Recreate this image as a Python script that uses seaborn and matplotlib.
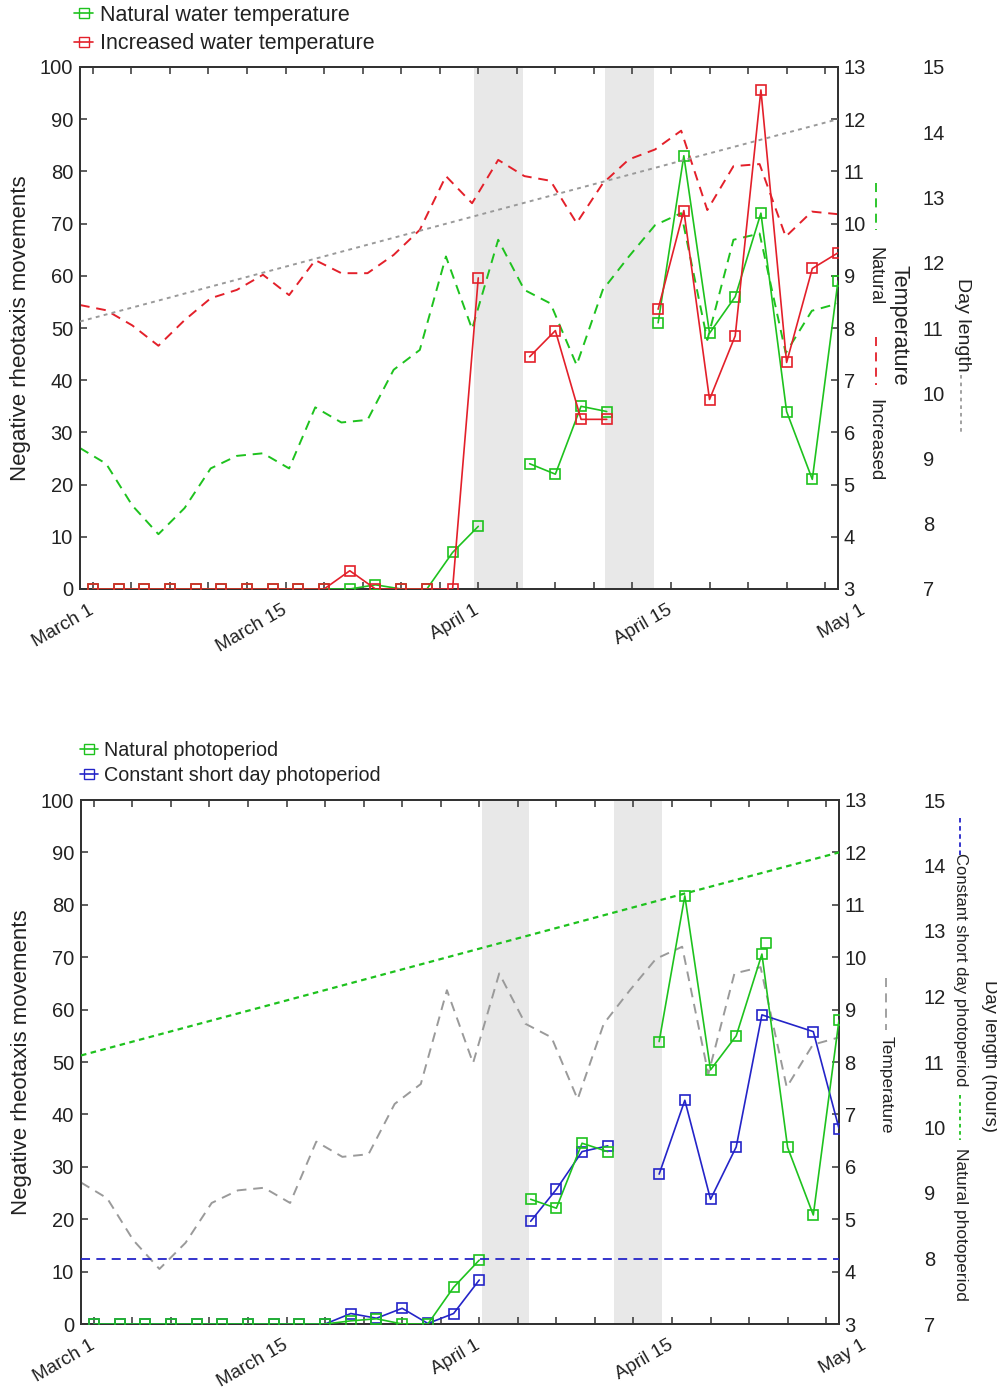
import numpy as np
import pandas as pd
import matplotlib
matplotlib.use("Agg")
import matplotlib.pyplot as plt
import seaborn as sns
from matplotlib.lines import Line2D
from matplotlib.transforms import blended_transform_factory, ScaledTranslation

nan = np.nan

# ---------------- data ----------------
obs_days = list(range(0, 60, 2))          # days since March 1 (every second day)
gap_days = [32, 42]                        # no observations (shaded periods)
date_labels = ["March 1", "March 15", "April 1", "April 15", "May 1"]
date_label_days = [0, 15, 30, 45, 60]

# Panel A: negative rheotaxis movements
natural_water = [0, 0, 0, 0, 0, 0, 0, 0, 0, 0, 0, 0.8, 0, 0, 7, 12, nan,
                 24, 22, 35, 34, nan, 51, 83, 49, 56, 72, 34, 21, 59]
increased_water = [0, 0, 0, 0, 0, 0, 0, 0, 0, 0, 3.5, 0, 0, 0, 0, 59.6, nan,
                   44.5, 49.5, 32.5, 32.5, nan, 53.6, 72.5, 36.3, 48.5, 95.6, 43.4, 61.4, 64.4]

# Panel B: negative rheotaxis movements
natural_photo = [0, 0, 0, 0, 0, 0, 0, 0, 0, 0, 0.6, 1.0, 0, 0, 7.0, 12.2, nan,
                 23.8, 22.1, 34.5, 32.9, nan, 53.9, 81.7, 48.5, 55.0, 70.6, 33.7, 20.8, 58.0]
natural_photo_extra_day = [52.3]
natural_photo_extra_val = [72.7]
short_photo = [0, 0, 0, 0, 0, 0, 0, 0, 0, 0, 2.0, 1.1, 3.0, 0.1, 2.0, 8.4, nan,
               19.6, 25.7, 32.9, 34.0, nan, 28.6, 42.7, 23.8, 33.8, 59.0, nan, 55.8, 37.3]

# Water temperature (deg C), 30 readings spanning the x range
temp_days = np.linspace(-1, 58, 30)
natural_temp = [5.7, 5.4, 4.6, 4.05, 4.55, 5.31, 5.55, 5.6, 5.31, 6.48, 6.19, 6.24,
                7.2, 7.58, 9.37, 7.98, 9.69, 8.73, 8.47, 7.29, 8.73, 9.37, 9.97, 10.2,
                7.77, 9.69, 9.81, 7.52, 8.33, 8.47]
increased_temp = [8.44, 8.34, 8.05, 7.66, 8.15, 8.57, 8.73, 9.02, 8.63, 9.3, 9.05, 9.05,
                  9.4, 9.88, 10.91, 10.39, 11.22, 10.91, 10.82, 10.01, 10.77, 11.23, 11.42,
                  11.78, 10.26, 11.1, 11.14, 9.75, 10.23, 10.18]

# Day length (hours)
daylen_days = [-1, 15, 30, 45, 58]
natural_daylen = [11.1, 11.94, 12.73, 13.52, 14.2]
short_daylen_days = [-1, 58]
short_daylen = [8, 8]

# shaded periods (days)
shade_a = [(29.7, 33.45), (39.85, 43.65)]
shade_b = [(30.2, 33.85), (40.45, 44.2)]

# ---------------- style ----------------
sns.set_style("ticks")
plt.rcParams["font.family"] = ["Liberation Sans", "DejaVu Sans"]
TXT = "#222222"
GREEN = "#1ec21e"
RED = "#e3202a"
BLUE = "#2424c8"
GRAY = "#9a9a9a"
SHADE = "#e8e8e8"
SPINE = "#333333"

W, H = 997, 1391
fig = plt.figure(figsize=(W / 100, H / 100), dpi=100)


def fx(px):
    return px / W


def fy(py):
    return 1 - py / H


def seg_frame(days, vals):
    df = pd.DataFrame({"day": days, "val": vals})
    df["seg"] = np.searchsorted(gap_days, df["day"].values)
    return df.dropna()


def to_temp(vals):
    # counts 0..100 share the vertical scale with temperature 3..13
    return [3 + v / 10 for v in vals]


def draw_counts(ax, vals, color):
    df = seg_frame(obs_days, to_temp(vals))
    sns.lineplot(data=df, x="day", y="val", units="seg", estimator=None, sort=False,
                 ax=ax, color=color, lw=1.2, marker="s", ms=7.5, mfc="none",
                 mec=color, mew=1.2, legend=False, zorder=5)


def style_axes(ax, axt, axd, ticklab=14.5):
    ax.set_xlim(-1, 58)
    ax.set_ylim(0, 100)
    ax.set_yticks(range(0, 101, 10))
    ax.set_xticks(range(0, 58, 3))
    ax.tick_params(axis="x", which="both", direction="in", top=True, bottom=True,
                   length=5, width=1.1, color=SPINE, labelbottom=False)
    ax.tick_params(axis="y", direction="in", left=True, right=False, length=5, width=1.1,
                   color=SPINE, labelsize=ticklab, labelcolor=TXT, pad=5)
    ax.set_xlabel("")
    ax.set_ylabel("Negative rheotaxis movements", fontsize=16, color=TXT, labelpad=6)
    for s in ax.spines.values():
        s.set_visible(True)
        s.set_color(SPINE)
        s.set_linewidth(1.4)
    axt.set_xlim(-1, 58)
    axt.set_ylim(3, 13)
    axt.set_yticks(range(3, 14))
    axt.tick_params(axis="y", direction="in", right=True, length=5, width=1.1,
                    color=SPINE, labelsize=ticklab, labelcolor=TXT, pad=4)
    axt.set_ylabel("")
    axt.set_xlabel("")
    for s in axt.spines.values():
        s.set_color(SPINE)
        s.set_linewidth(1.4)
    axd.set_ylim(7, 15)
    axd.set_yticks(range(7, 16))
    axd.spines["right"].set_position(("outward", 60))
    for s in axd.spines.values():
        s.set_visible(False)
    axd.tick_params(axis="y", length=0, labelsize=ticklab, labelcolor=TXT, pad=1)
    axd.set_ylabel("")
    axd.set_xlabel("")
    tr = blended_transform_factory(ax.transData, ax.transAxes) + \
        ScaledTranslation(4 / 100, 0, fig.dpi_scale_trans)
    for d, lab in zip(date_label_days, date_labels):
        ax.text(d, -0.024, lab, transform=tr, rotation=30, ha="right", va="top",
                fontsize=13.5, color=TXT, clip_on=False)


def vseg(x, y0, y1, color, ls, lw=1.3):
    fig.add_artist(Line2D([fx(x), fx(x)], [fy(y0), fy(y1)], color=color, ls=ls, lw=lw))


def vtext(x, y, s, size):
    fig.text(fx(x), fy(y), s, rotation=270, ha="center", va="center", fontsize=size, color=TXT)


# ================= Panel A =================
axA = fig.add_axes([fx(80), fy(589), fx(838) - fx(80), fy(67) - fy(589)])
for a, b in shade_a:
    axA.axvspan(a, b, color=SHADE, lw=0, zorder=0)
axA_t = axA.twinx()
axA_d = axA.twinx()

sns.lineplot(x=daylen_days, y=natural_daylen, ax=axA_d, color=GRAY, lw=1.4,
             linestyle=(0, (2, 2.2)), legend=False)
sns.lineplot(x=temp_days, y=natural_temp, ax=axA_t, color=GREEN, lw=1.4,
             linestyle=(0, (5, 3.5)), legend=False)
sns.lineplot(x=temp_days, y=increased_temp, ax=axA_t, color=RED, lw=1.4,
             linestyle=(0, (5, 3.5)), legend=False)
draw_counts(axA_t, natural_water, GREEN)
draw_counts(axA_t, increased_water, RED)
style_axes(axA, axA_t, axA_d)

legA = [Line2D([], [], color=GREEN, lw=1.2, marker="s", ms=6.5, mfc="none", mec=GREEN),
        Line2D([], [], color=RED, lw=1.2, marker="s", ms=6.5, mfc="none", mec=RED)]
fig.legend(legA, ["Natural water temperature", "Increased water temperature"],
           loc="upper left", bbox_to_anchor=(fx(74), fy(5)), frameon=False, fontsize=15.5,
           handlelength=0.9, handletextpad=0.3, labelspacing=0.33, borderpad=0,
           borderaxespad=0, labelcolor=TXT)

vseg(876, 183, 230, GREEN, (0, (5, 3.5)))
vtext(875, 276, "Natural", 13)
vseg(876, 337, 385, RED, (0, (5, 3.5)))
vtext(875, 440, "Increased", 13.5)
vtext(899, 325, "Temperature", 15.5)
vtext(962, 325, "Day length", 14)
vseg(961, 375, 432, GRAY, (0, (2, 2.2)))

# ================= Panel B =================
axB = fig.add_axes([fx(81), fy(1324), fx(839) - fx(81), fy(800) - fy(1324)])
for a, b in shade_b:
    axB.axvspan(a, b, color=SHADE, lw=0, zorder=0)
axB_t = axB.twinx()
axB_d = axB.twinx()

sns.lineplot(x=daylen_days, y=natural_daylen, ax=axB_d, color=GREEN, lw=1.6,
             linestyle=(0, (2.5, 2)), legend=False)
sns.lineplot(x=short_daylen_days, y=short_daylen, ax=axB_d, color=BLUE, lw=1.3,
             linestyle=(0, (5, 3.5)), legend=False)
sns.lineplot(x=temp_days, y=natural_temp, ax=axB_t, color=GRAY, lw=1.4,
             linestyle=(0, (5, 3.5)), legend=False)
draw_counts(axB_t, short_photo, BLUE)
draw_counts(axB_t, natural_photo, GREEN)
sns.scatterplot(x=natural_photo_extra_day, y=to_temp(natural_photo_extra_val), ax=axB_t,
                marker="s", s=55, facecolor="none", edgecolor=GREEN, linewidth=1.2,
                zorder=6, legend=False)
style_axes(axB, axB_t, axB_d)

legB = [Line2D([], [], color=GREEN, lw=1.2, marker="s", ms=6.5, mfc="none", mec=GREEN),
        Line2D([], [], color=BLUE, lw=1.2, marker="s", ms=6.5, mfc="none", mec=BLUE)]
fig.legend(legB, ["Natural photoperiod", "Constant short day photoperiod"],
           loc="upper left", bbox_to_anchor=(fx(80), fy(741)), frameon=False, fontsize=14.2,
           handlelength=0.9, handletextpad=0.3, labelspacing=0.3, borderpad=0,
           borderaxespad=0, labelcolor=TXT)

vseg(886, 978, 1030, GRAY, (0, (5, 3.5)))
vtext(886, 1085, "Temperature", 12.5)
vseg(960, 818, 855, BLUE, (0, (2.5, 2)))
vtext(960, 970, "Constant short day photoperiod", 12)
vseg(960, 1095, 1140, GREEN, (0, (2, 2)))
vtext(960, 1224, "Natural photoperiod", 12.5)
vtext(989, 1056, "Day length (hours)", 13.3)

fig.savefig("out.png", dpi=100)
